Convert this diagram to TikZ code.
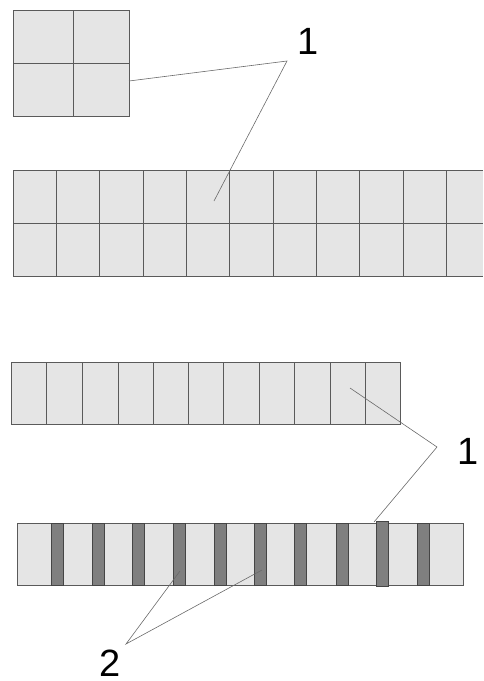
\documentclass[tikz,border=0pt]{standalone}
\usepackage{fontspec}
\setmainfont{Liberation Sans}
\definecolor{cellgray}{HTML}{E5E5E5}
\definecolor{edgegray}{HTML}{5A5A5A}
\definecolor{bandgray}{HTML}{7F7F7F}
\definecolor{banddark}{HTML}{454545}
\definecolor{leadgray}{HTML}{6A6A6A}
\begin{document}
\begin{tikzpicture}[x=1pt,y=-1pt,
  cell/.style={fill=cellgray,draw=edgegray,line width=0.9pt},
  gridline/.style={draw=edgegray,line width=0.9pt},
  band/.style={fill=bandgray,draw=banddark,line width=0.7pt},
  leader/.style={draw=leadgray,line width=0.6pt},
  num/.style={font=\fontsize{38}{38}\selectfont,inner sep=0pt}]
\useasboundingbox (0,0) rectangle (483,681);

% small 2x2 block
\draw[cell] (13,10) rectangle (129,116);
\draw[gridline] (73,10) -- (73,116) (13,63) -- (129,63);

% long two-row block, running off the right edge
\fill[cellgray] (13,170) rectangle (483,276);
\draw[gridline] (13,170) -- (483,170) (13,223) -- (483,223) (13,276) -- (483,276);
\foreach \i in {0,...,10}
  \draw[gridline] ({13+43.33*\i},170) -- ++(0,106);

% single-row strip of eleven cells
\draw[cell] (11,362) rectangle (400,424);
\foreach \x in {46.3,82.3,118,153.3,188.7,223.7,259,294.3,330,365.3}
  \draw[gridline] (\x,362) -- (\x,424);

% strip with dark spacer bands
\draw[cell] (17.3,523) rectangle (463.3,585);
\foreach \x in {51.7,92.3,132.7,173.7,214,254.3,294.7,336,417.3}
  \draw[band] (\x,523) rectangle ++(12,62);
\draw[band] (376.7,521.5) rectangle ++(12,65);

% reference numbers
\node[num] (n1a) at (308,41.7) {1};
\node[num] (n1b) at (467.8,451) {1};
\node[num] (n2) at (110,663.3) {2};

% leader lines
\coordinate (j1) at (287,61);
\coordinate (a1) at (129,81);
\coordinate (b1) at (214,201);
\coordinate (j2) at (437,447);
\coordinate (a2) at (350,388);
\coordinate (b2) at (374,522);
\coordinate (j3) at (126,644);
\coordinate (a3) at (180,571);
\coordinate (b3) at (262,570);
\draw[leader] (a1) -- (j1) -- (b1);
\draw[leader] (a2) -- (j2) -- (b2);
\draw[leader] (a3) -- (j3) -- (b3);
\end{tikzpicture}
\end{document}
